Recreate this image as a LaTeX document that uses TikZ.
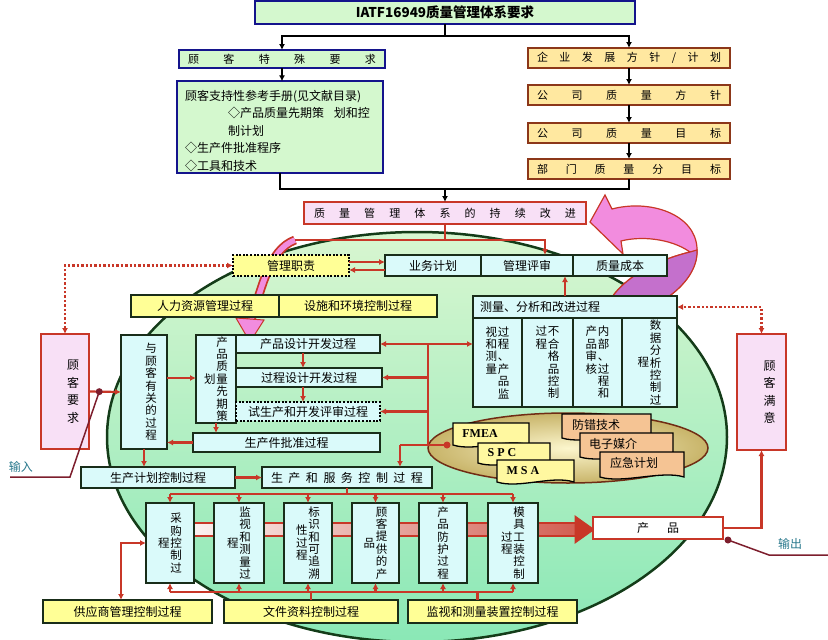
\documentclass[tikz,border=0pt]{standalone}
\usepackage{fontspec}
\setmainfont{Noto Sans CJK SC}
\newfontfamily\docfont{Liberation Serif}
\usetikzlibrary{arrows.meta,positioning,calc}
\definecolor{mred}{RGB}{200,55,40}
\definecolor{mdark}{RGB}{25,45,25}
\definecolor{mnavy}{RGB}{20,20,140}
\definecolor{mbrown}{RGB}{140,55,25}
\definecolor{mcyan}{RGB}{218,250,250}
\definecolor{myellow}{RGB}{255,255,150}
\definecolor{mgreenf}{RGB}{212,248,206}
\definecolor{mtan}{RGB}{255,232,160}
\definecolor{mlilac}{RGB}{248,224,246}
\definecolor{mpink}{RGB}{242,140,222}
\definecolor{mviolet}{RGB}{196,112,204}
\definecolor{mmaroon}{RGB}{125,30,45}
\definecolor{mteal}{RGB}{40,120,140}
\definecolor{morange}{RGB}{245,196,148}
\definecolor{mdoc}{RGB}{255,248,160}
\definecolor{mtop}{RGB}{216,246,208}
\definecolor{mbot}{RGB}{138,232,182}
\definecolor{mell}{RGB}{20,60,25}
\definecolor{mkhaki}{RGB}{200,180,105}
\definecolor{mcream}{RGB}{252,246,205}

% one column of vertical text (c = centred, t = top aligned)
\newcommand\vcol[1]{\parbox[c]{1.05em}{\lineskiplimit=-20pt\centering #1}}
\newcommand\vcolt[1]{\parbox[t]{1.05em}{\lineskiplimit=-20pt\centering #1}}
\newcommand\spreadtxt[2]{\makebox[#1][s]{#2}}
% document-shaped card with a wavy lower edge
\newcommand\docshape[5]{%
  \filldraw[fill=#5,draw=black,line width=1.3pt] (#1,#2) -- (#3,#2) -- (#3,#4)
    .. controls +(-22,-7) and +(22,7) .. (#1,#4) -- cycle;}

\begin{document}
\begin{tikzpicture}[x=1pt,y=-1pt,>={Latex[length=6pt,width=6pt]},
  every node/.style={font=\fontsize{12}{12.5}\selectfont,outer sep=0pt,inner sep=1pt},
  vfont/.style={font=\fontsize{11.5}{12.4}\selectfont},
  cbox/.style={draw=mdark,fill=mcyan,line width=1.5pt},
  ybox/.style={draw=mdark,fill=myellow,line width=1.5pt},
  tbox/.style={draw=mnavy,fill=mgreenf,line width=2.2pt},
  obox/.style={draw=mbrown,fill=mtan,line width=2pt,font=\fontsize{11}{12}\selectfont},
  pbox/.style={draw=mred,fill=mlilac,line width=2.6pt},
  dotbox/.style={draw=black,dash pattern=on 2pt off 1.6pt,line width=2.4pt},
  rl/.style={draw=mred,line width=2.2pt},
  blk/.style={draw=black,line width=2.5pt},
  dotl/.style={draw=mred,line width=2.6pt,dash pattern=on 2.4pt off 2pt},
  iol/.style={draw=mmaroon,line width=1.5pt}]
\useasboundingbox (0,0) rectangle (828,640);

% --- background ellipse
\shadedraw[top color=mtop,bottom color=mbot,draw=mell,line width=2.5pt]
  (417,437) ellipse [x radius=310,y radius=205];

% --- pink return arrow
\filldraw[fill=mpink,draw=mred,line width=1.2pt] (590,222) -- (605,195) -- (612,209)
  .. controls (650,199) and (695,214) .. (697,248)
  .. controls (698,268) and (685,285) .. (668,297) -- (612,297)
  .. controls (630,272) and (665,258) .. (690,252)
  .. controls (670,238) and (640,236) .. (621,241) -- (623,254) -- cycle;
\filldraw[fill=mviolet,draw=mred,line width=1.2pt] (612,297)
  .. controls (630,272) and (665,258) .. (690,252) -- (697,250)
  .. controls (698,268) and (685,285) .. (668,297) -- cycle;

% --- pink swoosh down to planning
\coordinate (gl) at (295,240);
\draw[mred,line width=9pt] (gl) .. controls (268,250) and (262,290) .. (250,322);
\draw[mpink,line width=5.5pt] (gl) .. controls (268,250) and (262,290) .. (250,322);
\filldraw[fill=mpink,draw=mred,line width=1pt] (236,318) -- (264,320) -- (250,342) -- cycle;

% --- main flow band
\shadedraw[left color=mred!6,right color=mred!80,draw=mred,line width=2pt]
  (190,523) rectangle (577,536);
\filldraw[fill=mred,draw=mred,line width=1pt] (575,516) -- (594,529.5) -- (575,543) -- cycle;

% --- tools
\shadedraw[inner color=mcream,outer color=mkhaki,draw=mbrown!80!black,line width=1.5pt]
  (568,448) ellipse [x radius=140,y radius=35];
\docshape{453}{423}{529}{445}{mdoc}
\docshape{478}{443}{550}{463}{mdoc}
\docshape{497}{460}{574}{482}{mdoc}
\docshape{562}{414}{651}{438}{morange}
\docshape{580}{433}{673}{457}{morange}
\docshape{600}{452}{684}{477}{morange}
\node[font=\docfont\bfseries\fontsize{12}{12}\selectfont] (fmea) at (480,434) {FMEA};
\node[font=\docfont\bfseries\fontsize{12}{12}\selectfont] (spc) at (502,453) {S P C};
\node[font=\docfont\bfseries\fontsize{12}{12}\selectfont] (msa) at (523,471) {M S A};
\node (fcjs) at (596,425) {防错技术};
\node (dzmj) at (613,444) {电子媒介};
\node (yjjh) at (634,463) {应急计划};

% --- top
\node[tbox,minimum width=380pt,minimum height=23pt,font=\bfseries\fontsize{13.5}{14}\selectfont]
  (title) at (445,12.5) {IATF16949质量管理体系要求};
\node[tbox,minimum width=206pt,minimum height=18pt,font=\fontsize{11}{12}\selectfont]
  (gkts) at (282,59) {\spreadtxt{188pt}{顾 客 特 殊 要 求}};
\node[tbox,minimum width=206pt,minimum height=88pt,text width=190pt,align=left,
  inner xsep=8pt,font=\fontsize{12}{17.5}\selectfont] (gkzc) at (280,127)
  {\rule{0pt}{18pt}顾客支持性参考手册(见文献目录)\\
   \hspace*{43pt}◇产品质量先期策\hspace{10pt}划和控\\
   \hspace*{43pt}制计划\\
   ◇生产件批准程序\\
   ◇工具和技术};
\node[obox,minimum width=202pt,minimum height=20pt] (qyfz) at (629,58)
  {\spreadtxt{184pt}{企 业 发 展 方 针 / 计 划}};
\node[obox,minimum width=202pt,minimum height=20pt] (gszf) at (629,95)
  {\spreadtxt{184pt}{公 司 质 量 方 针}};
\node[obox,minimum width=202pt,minimum height=20pt] (gsmb) at (629,133)
  {\spreadtxt{184pt}{公 司 质 量 目 标}};
\node[obox,minimum width=202pt,minimum height=20pt] (bmmb) at (629,169)
  {\spreadtxt{184pt}{部 门 质 量 分 目 标}};
\node[pbox,minimum width=282pt,minimum height=22pt,font=\fontsize{11}{12}\selectfont]
  (cxgj) at (445,213) {\spreadtxt{262pt}{质 量 管 理 体 系 的 持 续 改 进}};

% --- management row
\node[ybox,dotbox,minimum width=116pt,minimum height=21pt] (glzz) at (291,265.5) {管理职责};
\node[cbox,minimum width=96pt,minimum height=21pt] (ywjh) at (433,265.5) {业务计划};
\node[cbox,minimum width=92pt,minimum height=21pt] (glps) at (527,265.5) {管理评审};
\node[cbox,minimum width=94pt,minimum height=21pt] (zlcb) at (620,265.5) {质量成本};
\node[ybox,minimum width=148pt,minimum height=22pt] (rlzy) at (205,306) {人力资源管理过程};
\node[ybox,minimum width=158pt,minimum height=22pt] (sshj) at (358,306) {设施和环境控制过程};

% --- measurement block
\node[cbox,minimum width=204pt,minimum height=22pt,text width=190pt,align=left]
  (clfx) at (575,307) {测量、分析和改进过程};
\node[cbox,vfont,minimum width=49pt,minimum height=89pt] (cl1) at (497.5,362.5)
  {\vcolt{视\\和\\测\\量}\vcolt{过\\程\\、\\产\\品\\监}};
\node[cbox,vfont,minimum width=51pt,minimum height=89pt] (cl2) at (547.5,362.5)
  {\vcolt{过\\程}\vcolt{不\\合\\格\\品\\控\\制}};
\node[cbox,vfont,minimum width=49pt,minimum height=89pt] (cl3) at (597.5,362.5)
  {\vcolt{产\\品\\审\\核}\vcolt{内\\部\\、\\过\\程\\和}};
\node[cbox,vfont,minimum width=55pt,minimum height=89pt] (cl4) at (649.5,362.5)
  {\vcol{程}\vcol{数\\据\\分\\析\\控\\制\\过}};

% --- customer side
\node[pbox,minimum width=48pt,minimum height=115pt,font=\fontsize{12}{17.5}\selectfont]
  (gkyq) at (65,391.5) {\hspace*{16pt}\vcol{顾\\客\\要\\求}};
\node[pbox,minimum width=49pt,minimum height=116pt,font=\fontsize{12}{17.5}\selectfont]
  (gkmy) at (761.5,392) {\hspace*{16pt}\vcol{顾\\客\\满\\意}};
\node[cbox,vfont,minimum width=46pt,minimum height=114pt] (gkyg) at (144,392)
  {\hspace*{14pt}\vcol{与\\顾\\客\\有\\关\\的\\过\\程}};

% --- planning
\node[cbox,vfont,minimum width=40pt,minimum height=88pt] (apqp) at (216,379)
  {\vcol{划}\vcol{产\\品\\质\\量\\先\\期\\策}};
\node[cbox,minimum width=144pt,minimum height=18pt] (cpsj) at (308,344) {产品设计开发过程};
\node[cbox,minimum width=146pt,minimum height=19pt] (gcsj) at (309,377.5) {过程设计开发过程};
\node[cbox,dotbox,minimum width=144pt,minimum height=19pt] (sscp) at (308,411.5) {试生产和开发评审过程};
\node[cbox,minimum width=187pt,minimum height=19pt] (ppap) at (286.5,442.5) {生产件批准过程};
\node[cbox,minimum width=154pt,minimum height=21pt] (scjh) at (158,477.5) {生产计划控制过程};
\node[cbox,minimum width=170pt,minimum height=21pt] (scfw) at (347,477.5)
  {\spreadtxt{152pt}{生 产 和 服 务 控 制 过 程}};

% --- production processes
\node[cbox,vfont,minimum width=48pt,minimum height=80pt] (cg) at (170,543)
  {\vcol{程}\vcol{采\\购\\控\\制\\过}};
\node[cbox,vfont,minimum width=50pt,minimum height=80pt] (jscl) at (239,543)
  {\vcol{程}\vcol{监\\视\\和\\测\\量\\过}};
\node[cbox,vfont,minimum width=48pt,minimum height=80pt] (bsz) at (308,543)
  {\vcol{性\\过\\程}\vcol{标\\识\\和\\可\\追\\溯}};
\node[cbox,vfont,minimum width=47pt,minimum height=80pt] (gktg) at (375.5,543)
  {\vcol{品}\vcol{顾\\客\\提\\供\\的\\产}};
\node[cbox,vfont,minimum width=48pt,minimum height=80pt] (cpfh) at (443,543)
  {\vcol{产\\品\\防\\护\\过\\程}};
\node[cbox,vfont,minimum width=50pt,minimum height=80pt] (mjgz) at (513,543)
  {\vcol{过\\程}\vcol{模\\具\\工\\装\\控\\制}};
\node[draw=mred,fill=white,line width=2.6pt,minimum width=130pt,minimum height=22pt]
  (cp) at (658,528) {\spreadtxt{42pt}{产 品}};

% --- support processes
\node[ybox,minimum width=169pt,minimum height=23pt] (gys) at (127.5,611.5) {供应商管理控制过程};
\node[ybox,minimum width=174pt,minimum height=23pt] (wjzl) at (311,611.5) {文件资料控制过程};
\node[ybox,minimum width=169pt,minimum height=23pt] (jszz) at (492.5,611.5) {监视和测量装置控制过程};

% --- black connectors
\coordinate (tj) at (title.south |- 0,36);
\coordinate (hj) at (cxgj.north |- 0,189);
\draw[blk] (title.south) -- (tj);
\draw[blk,->] (tj) -| (gkts.north);
\draw[blk,->] (tj) -| (qyfz.north);
\draw[blk,->] (gkts.south) -- (gkts.south |- gkzc.north);
\draw[blk,->] (qyfz.south) -- (gszf.north);
\draw[blk,->] (gszf.south) -- (gsmb.north);
\draw[blk,->] (gsmb.south) -- (bmmb.north);
\draw[blk] (gkzc.south) |- (hj) -| (bmmb.south);
\draw[blk,->] (hj) -- (cxgj.north);

% --- red connectors
\coordinate (gj) at (cxgj.south |- 0,240);
\draw[rl] (cxgj.south) -- (gj);
\draw[rl] (gl) -- (gj);
\draw[rl,->] (gj) -| ([xshift=18pt]glps.north);
\draw[rl,->] ([yshift=3.5pt]glzz.east) -- ([yshift=3.5pt]ywjh.west);
\draw[rl,<-] ([yshift=-4.5pt]glzz.east) -- ([yshift=-4.5pt]ywjh.west);
\draw[rl,->] ([xshift=-10pt]clfx.north) -- ([xshift=-10pt]clfx.north |- glps.south);
\draw[dotl,<->] (gkyq.north) |- (glzz.west);
\draw[dotl,<->] (gkmy.north) |- (clfx.east);

\coordinate (indot) at ($(gkyq.east)!0.32!(gkyg.west)$);
\draw[rl,->] (gkyq.east) -- (gkyg.west);
\draw[rl,->] ([yshift=14pt]gkyg.east) -- ([yshift=1pt]apqp.west);
\draw[rl,->] (ppap.west) -- (gkyg.east |- ppap.west);
\draw[rl,->] (apqp.south) -- (apqp.south |- ppap.north);
\draw[rl,->] ([xshift=-5pt]cpsj.south) -- ([xshift=-5pt]cpsj.south |- gcsj.north);
\draw[rl,->] ([xshift=-6pt]gcsj.south) -- ([xshift=-6pt]gcsj.south |- sscp.north);

\coordinate (trk) at (428,445);
\coordinate (sj) at (400,445);
\coordinate (tdot) at (447,445);
\draw[rl] (cpsj.east -| trk) -- (trk);
\draw[rl,->] (cpsj.east -| trk) -- (cpsj.east);
\draw[rl,->] (gcsj.east -| trk) -- (gcsj.east);
\draw[rl,->] (sscp.east -| trk) -- (sscp.east);
\draw[rl,->] (cpsj.east -| trk) -- (cl1.west |- cpsj.east);
\draw[rl] (sj) -- (tdot);
\draw[rl,->] (sj) -- (sj |- scfw.north);
\fill[mred] (tdot) circle (3.5pt);

\draw[rl,->] (gkyg.south) -- (gkyg.south |- scjh.north);
\draw[rl,->] (scjh) -- (scfw);

\coordinate (bus1) at (0,494);
\coordinate (bus2) at (0,592);
\draw[rl] (scfw.south) -- (scfw.south |- bus1);
\draw[rl] (cg.north |- bus1) -- (mjgz.north |- bus1);
\draw[rl] (cg.south |- bus2) -- (mjgz.south |- bus2);
\foreach \n in {cg,jscl,bsz,gktg,cpfh,mjgz} {
  \draw[rl,->] (\n.north |- bus1) -- (\n.north);
  \draw[rl,->] (\n.south |- bus2) -- (\n.south);
}
\draw[rl] (wjzl.north) -- (wjzl.north |- bus2);
\draw[rl] ([xshift=-15pt]jszz.north) -- ([xshift=-15pt]jszz.north |- bus2);
\draw[rl,<->] ([xshift=-6.5pt]gys.north) |- (cg.west);
\draw[rl,->] (cp.east) -| (gkmy.south);

% --- input / output
\coordinate (inbend) at (70,477);
\coordinate (inend) at (10,477);
\draw[iol] (indot) -- (inbend) -- (inend);
\fill[mmaroon] (indot) circle (3.5pt);
\node[text=mteal] (inlab) at (21,467) {输入};
\coordinate (outdot) at (728,540);
\coordinate (outbend) at (769,555);
\coordinate (outend) at (828,555);
\draw[iol] (outdot) -- (outbend) -- (outend);
\fill[mmaroon] (outdot) circle (3.5pt);
\node[text=mteal] (outlab) at (790,544) {输出};
\end{tikzpicture}
\end{document}
